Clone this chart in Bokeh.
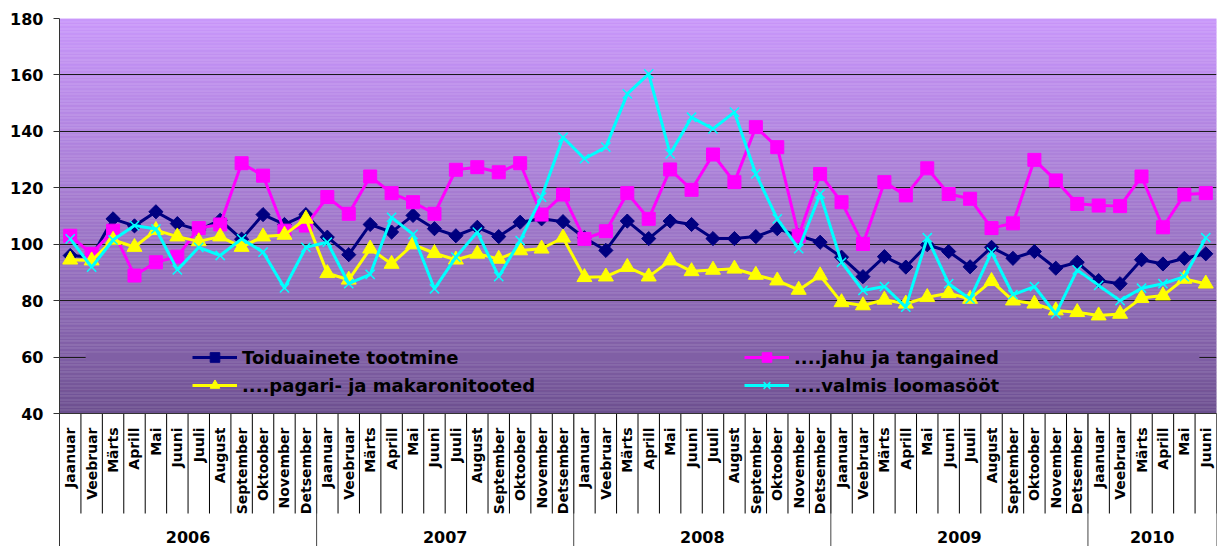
import math
from bokeh.plotting import figure
from bokeh.models import Range1d, FixedTicker, Legend, LegendItem
from bokeh.core.properties import value
from bokeh.embed import file_html
from bokeh.resources import INLINE

# ---------------- data ----------------
months = ["Jaanuar", "Veebruar", "Märts", "Aprill", "Mai", "Juuni", "Juuli",
          "August", "September", "Oktoober", "November", "Detsember"]
years = ["2006", "2007", "2008", "2009", "2010"]
months_per_year = [12, 12, 12, 12, 6]

toidu = [96, 95.5, 109, 106.5, 111.5, 107.3, 105, 108.5, 101.8, 110.5, 107, 110.5,
         102.5, 96.3, 107, 104.3, 110.2, 105.5, 103, 106, 102.7, 107.8, 109, 108,
         102.3, 97.8, 108.2, 102, 108.2, 107, 102, 102, 102.7, 105.5, 103, 100.7,
         95.4, 88.5, 95.6, 91.9, 99.8, 97.4, 92, 98.9, 95, 97.4, 91.5, 93.6,
         87.1, 86, 94.5, 93, 95, 96.6]
jahu = [103, 96.6, 104.8, 88.9, 93.6, 95.6, 105.7, 107, 128.7, 124.3, 104.8, 106.6,
        116.7, 110.8, 124, 118.1, 114.9, 110.8, 126.4, 127.3, 125.5, 128.7, 110.5, 117.6,
        101.9, 104.6, 118.1, 109, 126.5, 119.3, 131.8, 122, 141.5, 134.4, 103, 124.9,
        114.9, 100.1, 122, 117.3, 126.9, 117.8, 116.1, 105.7, 107.4, 129.9, 122.6, 114.3,
        113.7, 113.5, 124, 106, 117.6, 118.1]
pagari = [94.5, 94.2, 101.5, 99, 105, 102.7, 101, 102.7, 99, 102.7, 103.3, 109,
          89.7, 87.4, 98.4, 93, 99.9, 96.8, 94.5, 96.6, 94.8, 97.8, 98.4, 102.3,
          88.3, 88.5, 91.9, 88.5, 94.2, 90.4, 90.9, 91.3, 89.1, 87.1, 83.8, 88.9,
          79.4, 78.3, 80.3, 78.9, 81.2, 82.6, 80.6, 86.9, 80, 78.9, 76.5, 75.9,
          74.7, 75.3, 80.9, 81.8, 87.7, 86]
loom = [101.9, 91.9, 101.5, 106.6, 105.4, 90.9, 98.9, 96, 101.9, 97.2, 84.5, 98.9,
        100.7, 86, 89.3, 109.5, 103.5, 84.2, 95.4, 104.3, 88.5, 101.3, 116.7, 137.9,
        130.3, 134.4, 153.3, 160.4, 132, 145, 140.9, 146.8, 124.9, 109, 98.4, 117.8,
        93.6, 83.6, 85, 77.7, 102.3, 86, 80.6, 97.2, 82.1, 85, 75.3, 90.9,
        85.4, 80, 84.4, 86, 88.5, 102.3]

series_names = ["Toiduainete tootmine", "....jahu ja tangained",
                "....pagari- ja makaronitooted", "....valmis loomasööt"]
y_ticks = [40, 60, 80, 100, 120, 140, 160, 180]

# ---------------- layout ----------------
labels = []
for n in months_per_year:
    labels += months[:n]
N = len(labels)
xs = [i + 0.5 for i in range(N)]

Y_MIN, Y_MAX = 40, 180
FRAME_TOP = 18
PLOT_PX = 395.0                 # pixel height of the 40..180 band
FIG_H = 546
FRAME_H = FIG_H - FRAME_TOP
ppu = PLOT_PX / (Y_MAX - Y_MIN)
y_start = Y_MAX - FRAME_H / ppu


def below(px):
    """data y for a point px pixels below the 40 line"""
    return Y_MIN - px / ppu


p = figure(width=1218, height=FIG_H, x_range=Range1d(0, N),
           y_range=Range1d(y_start, Y_MAX), output_backend="svg",
           toolbar_location=None, x_axis_location=None,
           min_border_left=59, min_border_right=2, min_border_top=FRAME_TOP,
           min_border_bottom=0)
p.outline_line_color = None
p.background_fill_color = "white"
p.border_fill_color = "white"

# gradient background (40..180)
top_c = (201, 152, 250)
bot_c = (108, 80, 142)
GAMMA = 0.8


def grad(f):
    g = f ** GAMMA
    return "#%02x%02x%02x" % tuple(int(round(bot_c[j] + (top_c[j] - bot_c[j]) * g))
                                   for j in range(3))


steps = 280
bots, tops, cols = [], [], []
for k in range(steps):
    b = Y_MIN + (Y_MAX - Y_MIN) * k / steps
    t = Y_MIN + (Y_MAX - Y_MIN) * (k + 1) / steps
    bots.append(b)
    tops.append(t)
    cols.append(grad((k + 0.5) / steps))
p.quad(left=0, right=N, bottom=bots, top=tops, fill_color=cols, line_color=cols,
       line_width=0.5, level="image")

# grid
tick = FixedTicker(ticks=y_ticks)
p.ygrid.ticker = tick
p.ygrid.grid_line_color = "#1a1a1a"
p.ygrid.grid_line_width = 1
p.xgrid.visible = False

# legend box hides gridline 60 (same fill as the background)
c60 = grad((60 - Y_MIN) / (Y_MAX - Y_MIN))
p.quad(left=1.22, right=53.2, bottom=58.5, top=61.5, fill_color=c60, line_color=None)

# y axis
ax = p.yaxis[0]
ax.ticker = tick
ax.major_label_text_font = "DejaVu Sans"
ax.major_label_text_font_style = "bold"
ax.major_label_text_font_size = "16px"
ax.major_label_text_color = "black"
ax.axis_line_color = "#333333"
ax.major_tick_line_color = "#333333"
ax.major_tick_out = 6
ax.major_tick_in = 0
ax.minor_tick_line_color = None
ax.major_label_standoff = 10

# category axis drawn manually
p.segment(x0=list(range(N + 1)), y0=Y_MIN, x1=list(range(N + 1)), y1=below(100),
          line_color="black", line_width=1)
bounds = [0]
for n in months_per_year:
    bounds.append(bounds[-1] + n)
p.segment(x0=bounds, y0=Y_MIN, x1=bounds, y1=y_start, line_color="#444444", line_width=1)
p.segment(x0=0, y0=Y_MIN, x1=N, y1=Y_MIN, line_color="#333333", line_width=1)

p.text(x=xs, y=below(14), text=labels, angle=math.pi / 2, text_align="right",
       text_baseline="middle", text_font=value("DejaVu Sans"), text_font_style="bold",
       text_font_size="14px", text_color="black")
year_x = [(bounds[i] + bounds[i + 1]) / 2 for i in range(len(years))]
p.text(x=year_x, y=below(123), text=years, text_align="center", text_baseline="middle",
       text_font=value("DejaVu Sans"), text_font_style="bold", text_font_size="16px",
       text_color="black")

# series
styles = [
    (toidu, "#000080", "square", 10, math.pi / 4),
    (jahu, "#ff00ff", "square", 13, 0),
    (pagari, "#ffff00", "triangle", 15, 0),
    (loom, "#00ffff", "x", 13, 0),
]
items = []
for (ys, col, mk, sz, ang), name in zip(styles, series_names):
    lr = p.line(xs, ys, line_color=col, line_width=3)
    if mk == "x":
        sr = p.scatter(xs, ys, marker="x", size=sz, line_color=col, line_width=1.5)
    else:
        sr = p.scatter(xs, ys, marker=mk, size=sz, angle=ang, fill_color=col,
                       line_color=col)
    items.append(LegendItem(label=name, renderers=[lr, sr]))

legend = Legend(items=[items[0], items[2], items[1], items[3]], ncols=2,
                location=(133, 149), background_fill_alpha=0, border_line_alpha=0,
                label_text_font="DejaVu Sans", label_text_font_style="bold",
                label_text_font_size="18px", label_text_color="black",
                glyph_width=45, glyph_height=24, label_height=24, label_standoff=5,
                label_width=498, spacing=4, padding=0, margin=0)
p.add_layout(legend)

open("out.html", "w").write(file_html(p, INLINE))
